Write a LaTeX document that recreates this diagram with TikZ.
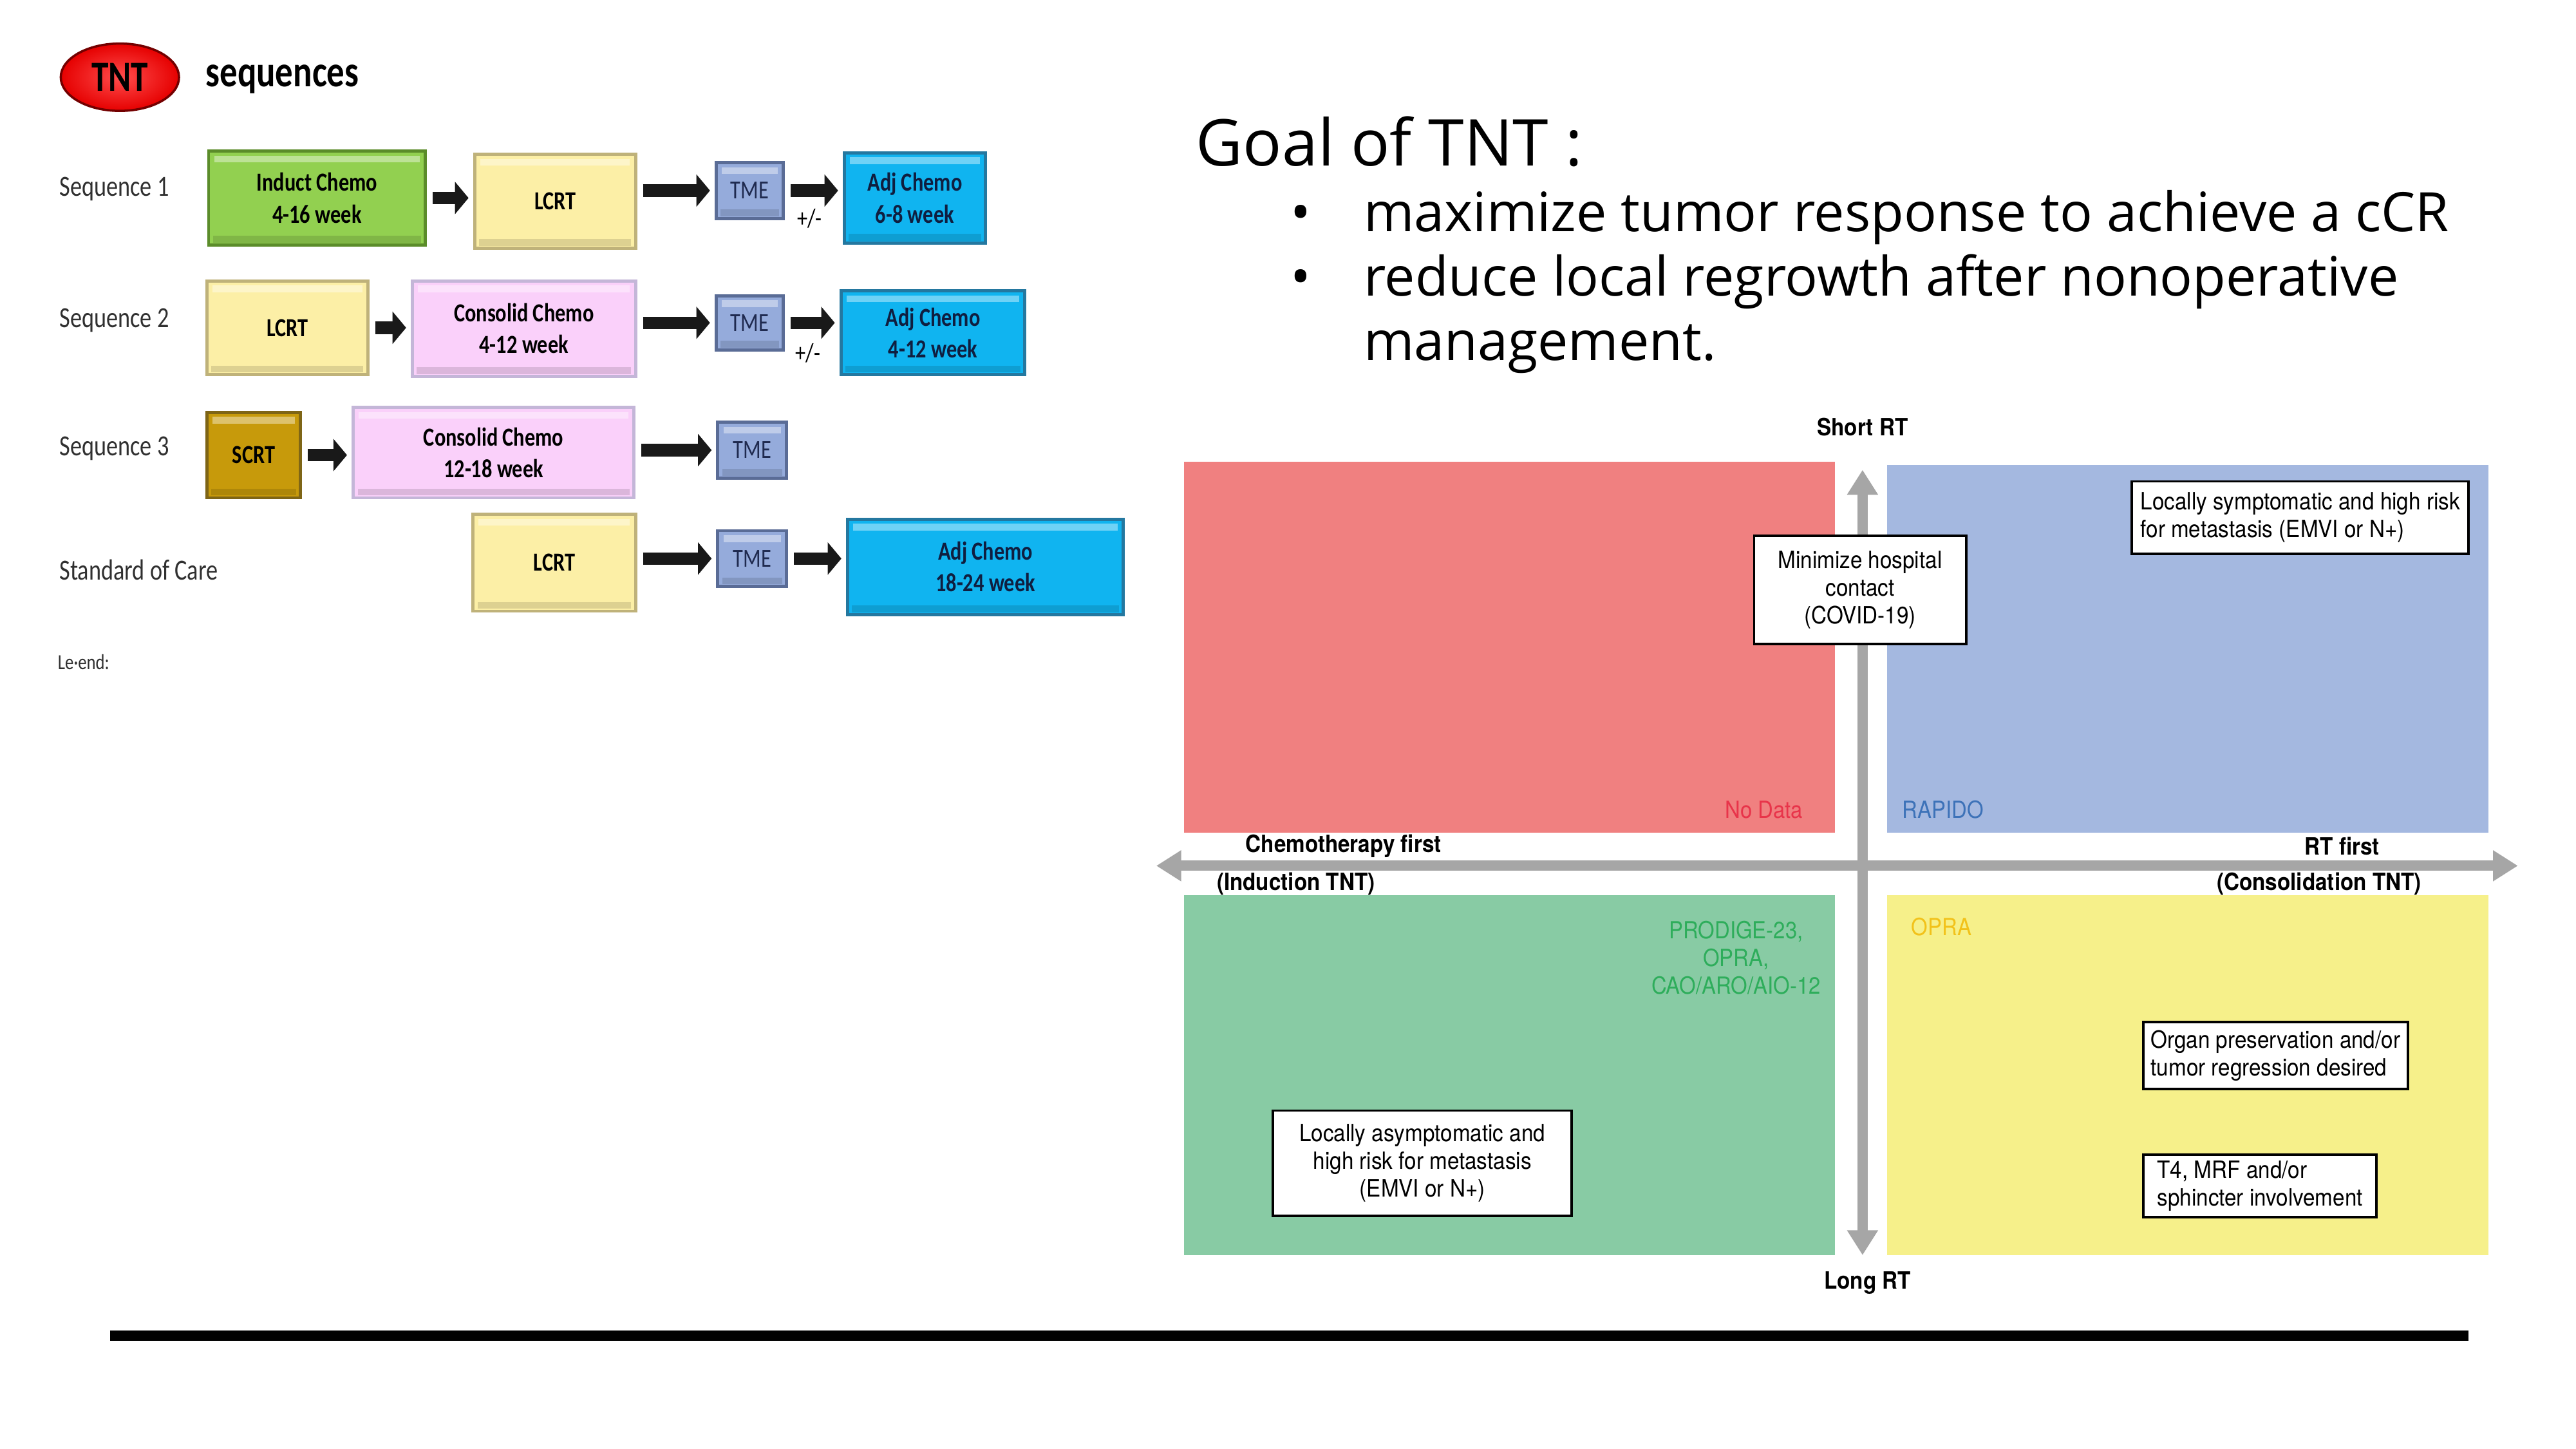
\documentclass[tikz,border=0pt]{standalone}
\usepackage{fontspec}
\setmainfont{Open Sans}
\newfontfamily\calfont[FakeStretch=0.8]{Carlito}
\newfontfamily\helfont[FakeStretch=0.9]{TeX Gyre Heros}
\usetikzlibrary{arrows.meta,shapes.geometric,calc}
\definecolor{gfill}{HTML}{92D050}\definecolor{gdraw}{HTML}{5B8C2A}
\definecolor{yfill}{HTML}{FCEFA6}\definecolor{ydraw}{HTML}{BFB27A}
\definecolor{pfill}{HTML}{FAD0FA}\definecolor{pdraw}{HTML}{C4B6D8}
\definecolor{tfill}{HTML}{95ABDB}\definecolor{tdraw}{HTML}{5A6C96}\definecolor{ttext}{HTML}{1F2A4F}
\definecolor{afill}{HTML}{10B4F0}\definecolor{adraw}{HTML}{2478A0}\definecolor{atext}{HTML}{0F1E40}
\definecolor{sfill}{HTML}{C79A0B}\definecolor{sdraw}{HTML}{7E6516}
\definecolor{qred}{HTML}{F08080}\definecolor{qblue}{HTML}{A4B8E0}
\definecolor{qgreen}{HTML}{88CBA4}\definecolor{qyellow}{HTML}{F6F08A}
\definecolor{garr}{HTML}{A6A6A6}
\definecolor{tred}{HTML}{E8344A}\definecolor{tblue}{HTML}{3D72B8}
\definecolor{tgreen}{HTML}{2EAD5B}\definecolor{tgold}{HTML}{F2C21A}
\definecolor{labgrey}{HTML}{303030}
\tikzset{
  wh/.style 2 args={minimum width=#1*0.0255cm, minimum height=#2*0.0255cm},
  bevel/.style={path picture={\fill[white,opacity=0.4]
     ([xshift=2.5pt,yshift=-2pt]path picture bounding box.north west) rectangle
     ([xshift=-2.5pt,yshift=-5pt]path picture bounding box.north east);
     \fill[black,opacity=0.12]
     ([xshift=2pt,yshift=4pt]path picture bounding box.south west) rectangle
     ([xshift=-2pt,yshift=1pt]path picture bounding box.south east);}},
  sbox/.style={draw, line width=1.4pt, inner sep=0pt, align=center, bevel,
     font=\calfont\bfseries\fontsize{11.5}{14}\selectfont},
  tmebox/.style={sbox, fill=tfill, draw=tdraw, text=ttext, font=\calfont\fontsize{11.5}{13}\selectfont},
  seqlab/.style={anchor=west, inner sep=0pt, text=labgrey, font=\calfont\fontsize{12.9}{14}\selectfont},
  barrow/.style={draw=black!90, line width=5.5pt, -{Triangle[length=6pt,width=14pt]},
     shorten <=2.5pt, shorten >=2pt},
  garrow/.style={draw=garr, line width=4.5pt,
     {Triangle[length=11pt,width=13pt]}-{Triangle[length=11pt,width=13pt]}},
  quad/.style={inner sep=0pt, draw=none},
  lbl/.style={inner sep=0pt, font=\helfont\bfseries\fontsize{10.5}{12.3}\selectfont},
  clbl/.style={inner sep=0pt, align=center, font=\helfont\fontsize{10.4}{12.3}\selectfont},
  wbox/.style={draw=black, fill=white, line width=1.1pt, inner sep=0pt,
     font=\helfont\fontsize{10.5}{12.3}\selectfont},
  pmlab/.style={inner sep=0pt, font=\calfont\fontsize{11.5}{12}\selectfont},
  goaltxt/.style={anchor=base west, inner sep=0pt, font=\fontsize{24}{28}\selectfont},
}
\begin{document}
\begin{tikzpicture}[x=0.0255cm,y=-0.0255cm]
\useasboundingbox (0,0) rectangle (1568.4,882);
% ---------- left panel ----------
\node[ellipse, draw=red!45!black, line width=1pt, shading=radial, inner color=red!70!white,
      outer color=red!90!black, wh={72}{41}, inner sep=0pt,
      font=\calfont\bfseries\fontsize{19}{19}\selectfont] (tnt) at (73,47) {TNT};
\node[anchor=west, inner sep=0pt, font=\calfont\bfseries\fontsize{19.5}{20}\selectfont] (seqs) at (125,48) {sequences};

\node[seqlab] (s1) at (36,115) {Sequence 1};
\node[seqlab] (s2) at (36,195) {Sequence 2};
\node[seqlab] (s3) at (36,273) {Sequence 3};
\node[seqlab] (s4) at (36,347) {Standard of Care};
\node[anchor=west, inner sep=0pt, text=labgrey, font=\calfont\fontsize{9.5}{10}\selectfont] (leg) at (35,403) {Le·end:};

% sequence 1
\node[sbox, fill=gfill, draw=gdraw, wh={132}{57}] (ic1) at (193,120.5) {Induct Chemo\\4-16 week};
\node[sbox, fill=yfill, draw=ydraw, wh={98}{57}] (lc1) at (338,122.5) {LCRT};
\node[tmebox, wh={41}{34}] (tm1) at (456.5,116) {TME};
\node[sbox, fill=afill, draw=adraw, wh={86}{55}, text=atext] (ad1) at (557,120.5) {Adj Chemo\\6-8 week};
% sequence 2
\node[sbox, fill=yfill, draw=ydraw, wh={98}{57}] (lc2) at (175,199.5) {LCRT};
\node[sbox, fill=pfill, draw=pdraw, wh={136}{58}] (cc2) at (319,200) {Consolid Chemo\\4-12 week};
\node[tmebox, wh={41}{33}] (tm2) at (456.5,196.5) {TME};
\node[sbox, fill=afill, draw=adraw, wh={112}{51}, text=atext] (ad2) at (568,202.5) {Adj Chemo\\4-12 week};
% sequence 3
\node[sbox, fill=sfill, draw=sdraw, wh={57}{52}] (sc3) at (154.5,277) {SCRT};
\node[sbox, fill=pfill, draw=pdraw, wh={171}{55}] (cc3) at (300.5,275.5) {Consolid Chemo\\12-18 week};
\node[tmebox, wh={42}{34}] (tm3) at (458,274) {TME};
% standard of care
\node[sbox, fill=yfill, draw=ydraw, wh={99}{59}] (lc4) at (337.5,342.5) {LCRT};
\node[tmebox, wh={42}{34}] (tm4) at (458,340) {TME};
\node[sbox, fill=afill, draw=adraw, wh={168}{58}, text=atext] (ad4) at (600,345) {Adj Chemo\\18-24 week};

\draw[barrow] (ic1.east) -- (ic1.east -| lc1.west);
\draw[barrow] (tm1.west -| lc1.east) -- (tm1.west);
\draw[barrow] (tm1.east) -- (tm1.east -| ad1.west);
\draw[barrow] (lc2.east) -- (lc2.east -| cc2.west);
\draw[barrow] (tm2.west -| cc2.east) -- (tm2.west);
\draw[barrow] (tm2.east) -- (tm2.east -| ad2.west);
\draw[barrow] (sc3.east) -- (sc3.east -| cc3.west);
\draw[barrow] (tm3.west -| cc3.east) -- (tm3.west);
\draw[barrow] (tm4.west -| lc4.east) -- (tm4.west);
\draw[barrow] (tm4.east) -- (tm4.east -| ad4.west);
\node[pmlab] (pm1) at (493,133) {+/-};
\node[pmlab] (pm2) at (492,215) {+/-};

% ---------- right panel: goal text ----------
\node[anchor=base west, inner sep=0pt, font=\fontsize{28.5}{34}\selectfont] (goal) at (728,101) {Goal of TNT :};
\node[anchor=base, inner sep=0pt, font=\fontsize{24}{28}\selectfont] (b1) at (792,141) {•};
\node[anchor=base, inner sep=0pt, font=\fontsize{24}{28}\selectfont] (b2) at (792,180) {•};
\node[goaltxt] (t1) at (830,141) {maximize tumor response to achieve a cCR};
\node[goaltxt] (t2) at (830,180) {reduce local regrowth after nonoperative};
\node[goaltxt] (t3) at (830,219.5) {management.};

% ---------- quadrants ----------
\node[quad, fill=qred,    wh={396}{226}] (qr) at (919,394) {};
\node[quad, fill=qblue,   wh={366}{224}] (qb) at (1332,395) {};
\node[quad, fill=qgreen,  wh={396}{219}] (qg) at (919,654.5) {};
\node[quad, fill=qyellow, wh={366}{219}] (qy) at (1332,654.5) {};

\coordinate (vt) at (1134,286);
\coordinate (vb) at (1134,764);
\coordinate (hl) at (704,527);
\coordinate (hr) at (1533,527);
\draw[garrow] (hl) -- (hr);
\draw[garrow] (vb) -- (vt);

\node[lbl] (short) at (1134,260) {Short RT};
\node[lbl] (long) at (1137,781) {Long RT};
\node[lbl] (chf) at (818,515) {Chemotherapy first};
\node[lbl] (rtf) at (1426,515) {RT first};
\node[lbl] (ind) at (789,538) {(Induction TNT)};
\node[lbl] (con) at (1412,538) {(Consolidation TNT)};

\node[clbl, text=tred] (nod) at (1074,493) {No Data};
\node[clbl, text=tblue] (rap) at (1183,493) {RAPIDO};
\node[clbl, text=tgold] (opr) at (1182,564) {OPRA};
\node[clbl, text=tgreen] (pro) at (1057,583) {PRODIGE-23,\\OPRA,\\CAO/ARO/AIO-12};

\node[wbox, align=center, wh={129}{66}] (bcov) at (1132.5,359) {Minimize hospital\\contact\\(COVID-19)};
\node[wbox, align=left, wh={205}{44}] (bsym) at (1400.5,315) {Locally symptomatic and high risk\\for metastasis (EMVI or N+)};
\node[wbox, align=center, wh={182}{64}] (basy) at (866,708) {Locally asymptomatic and\\high risk for metastasis\\(EMVI or N+)};
\node[wbox, align=left, wh={161}{41}] (borg) at (1385.5,642.5) {Organ preservation and/or\\tumor regression desired};
\node[wbox, align=left, wh={142}{38}] (bt4) at (1376,722) {T4, MRF and/or\\sphincter involvement};

% ---------- bottom rule ----------
\coordinate (rl) at (67,813);
\coordinate (rr) at (1503,813);
\draw[line width=4.3pt] (rl) -- (rr);
\end{tikzpicture}
\end{document}
